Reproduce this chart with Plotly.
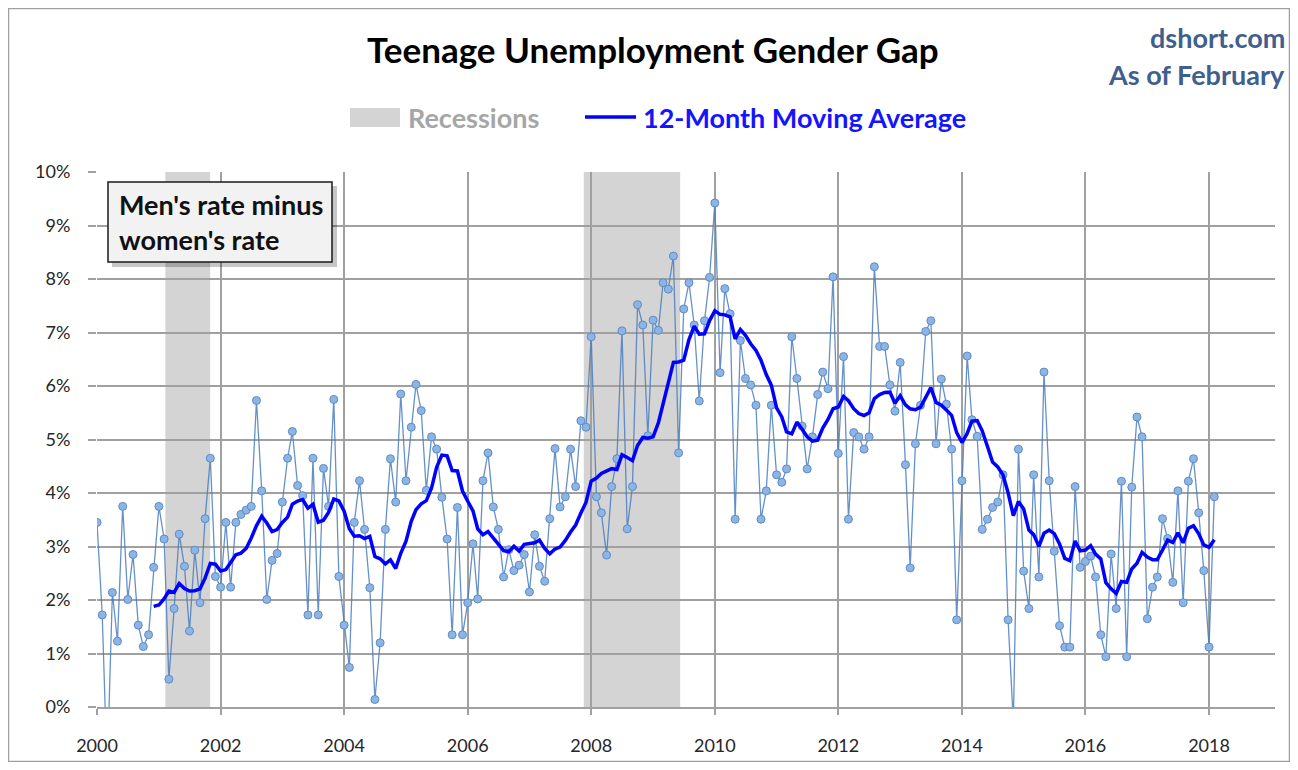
import pandas as pd
import plotly.graph_objects as go

# ---------------- data (percentage points, men's rate minus women's rate) ----------------
y2000 = [3.45, 1.72, -1.2, 2.14, 1.23, 3.75, 2.01, 2.85, 1.53, 1.13, 1.35, 2.61]
y2001 = [3.75, 3.14, 0.52, 1.84, 3.23, 2.63, 1.42, 2.93, 1.95, 3.52, 4.65, 2.44]
y2002 = [2.24, 3.45, 2.24, 3.45, 3.60, 3.68, 3.75, 5.73, 4.04, 2.01, 2.74, 2.87]
y2003 = [3.83, 4.65, 5.15, 4.14, 3.95, 1.72, 4.65, 1.72, 4.46, 3.75, 5.75, 2.44]
y2004 = [1.53, 0.74, 3.45, 4.23, 3.32, 2.23, 0.14, 1.20, 3.32, 4.64, 3.83, 5.85]
y2005 = [4.23, 5.23, 6.03, 5.54, 4.05, 5.05, 4.82, 3.92, 3.14, 1.35, 3.73, 1.35]
y2006 = [1.95, 3.05, 2.02, 4.23, 4.75, 3.74, 3.32, 2.43, 2.94, 2.55, 2.65, 2.85]
y2007 = [2.15, 3.22, 2.63, 2.35, 3.52, 4.83, 3.74, 3.93, 4.82, 4.12, 5.35, 5.23]
y2008 = [6.92, 3.93, 3.63, 2.84, 4.12, 4.64, 7.03, 3.33, 4.12, 7.52, 7.14, 5.07]
y2009 = [7.23, 7.04, 7.93, 7.81, 8.43, 4.75, 7.44, 7.93, 7.14, 5.72, 7.22, 8.03]
y2010 = [9.42, 6.25, 7.82, 7.35, 3.51, 6.85, 6.14, 6.02, 5.64, 3.51, 4.04, 5.64]
y2011 = [4.34, 4.20, 4.45, 6.92, 6.14, 5.25, 4.45, 5.05, 5.84, 6.26, 5.95, 8.04]
y2012 = [4.74, 6.55, 3.51, 5.13, 5.05, 4.82, 5.05, 8.23, 6.74, 6.74, 6.02, 5.53]
y2013 = [6.44, 4.53, 2.60, 4.92, 5.64, 7.02, 7.22, 4.92, 6.13, 5.66, 4.82, 1.63]
y2014 = [4.23, 6.56, 5.37, 5.06, 3.32, 3.51, 3.73, 3.83, 4.34, 1.63, -0.30, 4.82]
y2015 = [2.54, 1.84, 4.34, 2.43, 6.26, 4.23, 2.91, 1.52, 1.12, 1.12, 4.12, 2.61]
y2016 = [2.72, 2.82, 2.43, 1.35, 0.94, 2.86, 1.84, 4.22, 0.94, 4.11, 5.42, 5.05]
y2017 = [1.65, 2.24, 2.43, 3.52, 3.15, 2.33, 4.04, 1.95, 4.22, 4.64, 3.63, 2.55]
y2018 = [1.12, 3.93]

start_month = "2000-01-01"
recession_starts = ["2001-02-08", "2007-11-18"]
recession_ends = ["2001-10-31", "2009-06-10"]
y_ticks = list(range(0, 11))
x_tick_years = list(range(2000, 2019, 2))

title_text = "Teenage Unemployment Gender Gap"
source_lines = ["dshort.com", "As of February"]
box_text = "Men's rate minus<br>women's rate"
legend_labels = ["Recessions", "12-Month Moving Average"]

# ---------------- build series ----------------
gap = (y2000 + y2001 + y2002 + y2003 + y2004 + y2005 + y2006 + y2007 + y2008
       + y2009 + y2010 + y2011 + y2012 + y2013 + y2014 + y2015 + y2016 + y2017 + y2018)
dates = pd.date_range(start_month, periods=len(gap), freq="MS")
ma12 = pd.Series(gap).rolling(12).mean()

# ---------------- layout geometry (screen px; page body has an 8px margin) ----------------
OFF = 8
W, H = 1298 - 2 * OFF, 770 - 2 * OFF
SL, SR, ST, SB = 97, 1275, 172, 707           # plot area on screen
ML, MR, MT, MB = SL - OFF, OFF + W - SR, ST - OFF, OFF + H - SB


def px(xs):
    return (xs - SL) / (SR - SL)


def py(ys):
    return (SB - ys) / (SB - ST)


FONT = "Lato, 'Liberation Sans', sans-serif"
GRID = "#A0A0A0"

fig = go.Figure()

fig.add_trace(go.Scatter(
    x=dates, y=gap, mode="lines+markers", name="Gap",
    line=dict(color="rgba(74,126,190,0.85)", width=1.3),
    marker=dict(symbol="circle", size=8, color="#8DB4E2",
                line=dict(color="#5B8CC8", width=1)),
    showlegend=False, cliponaxis=True,
))
fig.add_trace(go.Scatter(
    x=dates, y=ma12, mode="lines", name=legend_labels[1],
    line=dict(color="#0000FF", width=3.5),
    showlegend=False,
))

shapes = []
for s, e in zip(recession_starts, recession_ends):
    shapes.append(dict(type="rect", xref="x", yref="paper", x0=s, x1=e, y0=0, y1=1,
                       fillcolor="#D4D4D4", line=dict(width=0), layer="below"))

# outer frame
shapes.append(dict(type="rect", xref="paper", yref="paper",
                   x0=px(8.5), x1=px(1289.5), y0=py(8.5), y1=py(761.5),
                   line=dict(color="#A0A0A0", width=1.5), fillcolor="rgba(0,0,0,0)"))
# legend symbols
shapes.append(dict(type="rect", xref="paper", yref="paper",
                   x0=px(350), x1=px(400), y0=py(108), y1=py(127),
                   fillcolor="#D4D4D4", line=dict(width=0)))
shapes.append(dict(type="line", xref="paper", yref="paper",
                   x0=px(585), x1=px(636), y0=py(117), y1=py(117),
                   line=dict(color="#0000FF", width=3.5)))
# text box shadow + box
shapes.append(dict(type="rect", xref="paper", yref="paper",
                   x0=px(112), x1=px(337), y0=py(186), y1=py(267),
                   fillcolor="rgba(0,0,0,0.22)", line=dict(width=0)))
shapes.append(dict(type="rect", xref="paper", yref="paper",
                   x0=px(108), x1=px(332), y0=py(182), y1=py(262),
                   fillcolor="#F2F2F2", line=dict(color="#1A1A1A", width=1.5)))

annotations = [
    dict(text=title_text, x=px(653), y=py(49), xref="paper", yref="paper",
         xanchor="center", yanchor="middle", showarrow=False,
         font=dict(family=FONT, size=35, color="#000000", weight="bold")),
    dict(text=source_lines[0], x=px(1287), y=py(37), xref="paper", yref="paper",
         xanchor="right", yanchor="middle", showarrow=False,
         font=dict(family=FONT, size=27, color="#3F5F8F", weight="bold")),
    dict(text=source_lines[1], x=px(1287), y=py(74), xref="paper", yref="paper",
         xanchor="right", yanchor="middle", showarrow=False,
         font=dict(family=FONT, size=27, color="#3F5F8F", weight="bold")),
    dict(text=legend_labels[0], x=px(406), y=py(117), xref="paper", yref="paper",
         xanchor="left", yanchor="middle", showarrow=False,
         font=dict(family=FONT, size=27, color="#A6A6A6", weight="bold")),
    dict(text=legend_labels[1], x=px(641), y=py(117), xref="paper", yref="paper",
         xanchor="left", yanchor="middle", showarrow=False,
         font=dict(family=FONT, size=27, color="#1414FF", weight="bold")),
    dict(text=box_text, x=px(117), y=py(222), xref="paper", yref="paper",
         xanchor="left", yanchor="middle", align="left", showarrow=False,
         font=dict(family=FONT, size=27, color="#111111", weight="bold")),
]

fig.update_layout(
    width=W, height=H,
    margin=dict(l=ML, r=MR, t=MT, b=MB, pad=0, autoexpand=False),
    paper_bgcolor="white", plot_bgcolor="white",
    shapes=shapes, annotations=annotations,
    showlegend=False,
    font=dict(family=FONT, size=18, color="#262626"),
)
fig.update_xaxes(
    type="date", range=["2000-01-01", "2019-01-26"],
    tickvals=[f"{yr}-01-01" for yr in x_tick_years],
    ticktext=[str(yr) for yr in x_tick_years],
    showgrid=True, gridcolor=GRID, gridwidth=1.6,
    ticks="outside", ticklen=6, tickcolor=GRID, tickwidth=1.6,
    showline=True, linecolor=GRID, linewidth=1.6,
    zeroline=False, ticklabelstandoff=16, automargin=False,
    tickfont=dict(family=FONT, size=18, color="#262626"),
)
fig.update_yaxes(
    range=[0, 10], tickvals=y_ticks, ticktext=[f"{v}%" for v in y_ticks],
    showgrid=True, gridcolor=GRID, gridwidth=1.6,
    ticks="outside", ticklen=8, tickcolor=GRID, tickwidth=1.6,
    showline=False, zeroline=False, ticklabelstandoff=14, automargin=False,
    tickfont=dict(family=FONT, size=18, color="#262626"),
)

fig.write_html("out.html")
